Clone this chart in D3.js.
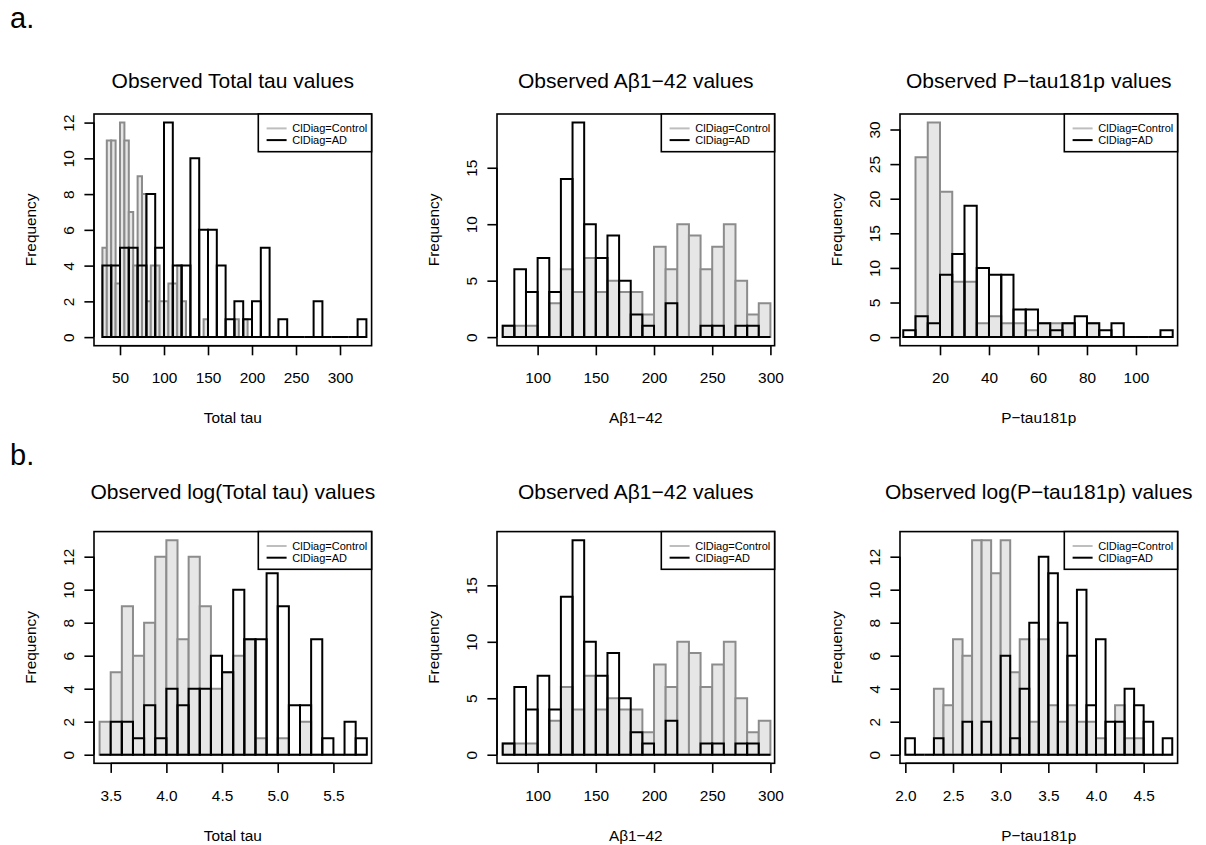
<!DOCTYPE html>
<html lang="en">
<head>
<meta charset="UTF-8">
<title>Observed CSF biomarker values by ClDiag</title>
<script src="https://d3js.org/d3.v7.min.js"></script>
<style>
  body { margin: 0; background: #fff; }
  svg { display: block; background: #fff; font-family: "Liberation Sans", Arial, Helvetica, sans-serif; }
  .ctrl path { fill: #e6e6e6; stroke: #8c8c8c; stroke-width: 2; }
  .ad path { fill: none; stroke: #000; stroke-width: 2; }
  .frame { fill: none; stroke: #000; stroke-width: 1.6; }
  .axis path, .axis line { stroke: #000; stroke-width: 1.6; }
  .axis text { fill: #000; font-size: 15.4px; font-family: "Liberation Sans", Arial, Helvetica, sans-serif; }
  .title { font-size: 21px; }
  .lab { font-size: 15.4px; }
  .legend text { font-size: 11px; }
</style>
</head>
<body>
<svg width="1206" height="845"></svg>
<script>
// --- data: histogram counts --------------------------------------------
// Total tau (raw): control bins of 5, AD bins of 10
const tauCtrlBins = { start: 30, width: 5 };
const tauCtrl = [5, 11, 11, 3, 12, 11, 7, 4, 9, 8, 2, 4, 4, 2, 2, 3, 3, 4, 2, 0, 0, 0, 0, 1, 0, 0, 0, 0, 0, 0, 1, 0, 1];
const tauAdBins = { start: 30, width: 10 };
const tauAd = [4, 4, 5, 5, 4, 8, 5, 12, 4, 4, 10, 6, 6, 4, 1, 2, 1, 2, 5, 0, 1, 0, 0, 0, 2, 0, 0, 0, 0, 1];

// Abeta 1-42: bins of 10 from 70
const abBins = { start: 70, width: 10 };
const abCtrl = [1, 1, 1, 0, 3, 6, 4, 7, 4, 5, 4, 4, 2, 8, 6, 10, 9, 6, 8, 10, 5, 2, 3];
const abAd = [1, 6, 4, 7, 4, 14, 19, 10, 7, 9, 5, 2, 1, 0, 3, 0, 0, 1, 1, 0, 1, 1, 0];

// P-tau181p: bins of 5 from 5
const ptauBins = { start: 5, width: 5 };
const ptauCtrl = [0, 26, 31, 21, 8, 8, 2, 3, 2, 2, 1, 2, 2, 2, 0, 2, 0, 0, 0, 0, 0, 0];
const ptauAd = [1, 3, 2, 9, 12, 19, 10, 9, 9, 4, 4, 2, 1, 2, 3, 2, 1, 2, 0, 0, 0, 1];

// log(Total tau): bins of 0.1 from 3.4
const logTauBins = { start: 3.4, width: 0.1 };
const logTauCtrl = [2, 5, 9, 6, 8, 12, 13, 7, 12, 9, 4, 5, 6, 7, 1, 0, 1, 0, 2, 0, 0, 0, 0, 0];
const logTauAd = [0, 2, 2, 1, 3, 1, 4, 3, 4, 4, 6, 5, 10, 7, 7, 11, 9, 3, 3, 7, 1, 0, 2, 1];

// log(P-tau181p): bins of 0.1 from 2.0
const logPtauBins = { start: 2.0, width: 0.1 };
const logPtauCtrl = [0, 0, 0, 4, 3, 7, 6, 13, 13, 11, 13, 5, 7, 2, 7, 3, 2, 3, 2, 2, 1, 0, 3, 1, 1, 0, 0, 0];
const logPtauAd = [1, 0, 0, 1, 0, 0, 2, 0, 2, 0, 6, 1, 4, 8, 12, 11, 8, 6, 10, 3, 7, 2, 2, 4, 3, 2, 0, 1];

// axis ticks
const tauTicks = [50, 100, 150, 200, 250, 300];
const abTicks = [100, 150, 200, 250, 300];
const ptauTicks = [20, 40, 60, 80, 100];
const logTauTicks = [3.5, 4.0, 4.5, 5.0, 5.5];
const logPtauTicks = [2.0, 2.5, 3.0, 3.5, 4.0, 4.5];
const legendLabels = ["ClDiag=Control", "ClDiag=AD"];

// --- layout -------------------------------------------------------------
const svg = d3.select("svg");
const boxW = 277.6, boxH = 231.7;
const colLeft = [94, 497, 900];
const rowTop = [114, 531.6];
const titleBase = [88, 499];

const panels = [
  { row: 0, col: 0, title: "Observed Total tau values", xlab: "Total tau", xlim: [20.45, 335.9],
    cb: tauCtrlBins, ctrl: tauCtrl, ab: tauAdBins, ad: tauAd, xt: tauTicks, yt: d3.range(0, 13, 2), fmt: d3.format("d") },
  { row: 0, col: 1, title: "Observed A\u03b21\u221242 values", xlab: "A\u03b21\u221242", xlim: [65.1, 303.6],
    cb: abBins, ctrl: abCtrl, ab: abBins, ad: abAd, xt: abTicks, yt: [0, 5, 10, 15], fmt: d3.format("d") },
  { row: 0, col: 2, title: "Observed P\u2212tau181p values", xlab: "P\u2212tau181p", xlim: [3.67, 117.0],
    cb: ptauBins, ctrl: ptauCtrl, ab: ptauBins, ad: ptauAd, xt: ptauTicks, yt: d3.range(0, 31, 5), fmt: d3.format("d") },
  { row: 1, col: 0, title: "Observed log(Total tau) values", xlab: "Total tau", xlim: [3.35, 5.843],
    cb: logTauBins, ctrl: logTauCtrl, ab: logTauBins, ad: logTauAd, xt: logTauTicks, yt: d3.range(0, 13, 2), fmt: d3.format(".1f") },
  { row: 1, col: 1, title: "Observed A\u03b21\u221242 values", xlab: "A\u03b21\u221242", xlim: [65.1, 303.6],
    cb: abBins, ctrl: abCtrl, ab: abBins, ad: abAd, xt: abTicks, yt: [0, 5, 10, 15], fmt: d3.format("d") },
  { row: 1, col: 2, title: "Observed log(P\u2212tau181p) values", xlab: "P\u2212tau181p", xlim: [1.944, 4.856],
    cb: logPtauBins, ctrl: logPtauCtrl, ab: logPtauBins, ad: logPtauAd, xt: logPtauTicks, yt: d3.range(0, 13, 2), fmt: d3.format(".1f") }
];

// panel letters
svg.append("text").attr("x", 10).attr("y", 28).attr("font-size", 29).text("a.");
svg.append("text").attr("x", 10).attr("y", 465).attr("font-size", 29).text("b.");

// one histogram bar per bin (a closed path so empty bins still show as a line)
function drawBars(g, x, y, bins, counts) {
  g.selectAll("path").data(counts).enter().append("path")
    .attr("d", (n, i) => {
      const x0 = x(bins.start + i * bins.width), x1 = x(bins.start + (i + 1) * bins.width);
      return `M${x0},${y(0)}V${y(n)}H${x1}V${y(0)}Z`;
    });
}

panels.forEach(p => {
  const left = colLeft[p.col], top = rowTop[p.row];
  const right = left + boxW, bottom = top + boxH;
  const ymax = d3.max(p.ctrl.concat(p.ad));

  const x = d3.scaleLinear().domain(p.xlim).range([left, right]);
  const y = d3.scaleLinear().domain([-0.04 * ymax, 1.04 * ymax]).range([bottom, top]);

  const g = svg.append("g");

  drawBars(g.append("g").attr("class", "ctrl"), x, y, p.cb, p.ctrl);
  drawBars(g.append("g").attr("class", "ad"), x, y, p.ab, p.ad);

  g.append("rect").attr("class", "frame")
    .attr("x", left).attr("y", top).attr("width", boxW).attr("height", boxH);

  // x axis (R style: line only between first and last tick)
  const xa = g.append("g").attr("class", "axis")
    .attr("transform", `translate(0,${bottom})`)
    .call(d3.axisBottom(x).tickValues(p.xt).tickFormat(p.fmt).tickSize(9.6).tickSizeOuter(0));
  xa.select(".domain").attr("d", `M${x(p.xt[0])},0H${x(p.xt[p.xt.length - 1])}`);
  xa.selectAll("text").attr("y", 37.6).attr("dy", null);

  // y axis with rotated labels
  const ya = g.append("g").attr("class", "axis")
    .attr("transform", `translate(${left},0)`)
    .call(d3.axisLeft(y).tickValues(p.yt).tickFormat(d3.format("d")).tickSize(9.6).tickSizeOuter(0));
  ya.select(".domain").attr("d", `M0,${y(p.yt[0])}V${y(p.yt[p.yt.length - 1])}`);
  ya.selectAll("text")
    .attr("x", null).attr("dy", null)
    .attr("text-anchor", "middle")
    .attr("transform", "translate(-20,0) rotate(-90)");

  // titles and axis labels
  g.append("text").attr("class", "title")
    .attr("x", (left + right) / 2).attr("y", titleBase[p.row])
    .attr("text-anchor", "middle").text(p.title);
  g.append("text").attr("class", "lab")
    .attr("x", (left + right) / 2).attr("y", bottom + 77.6)
    .attr("text-anchor", "middle").text(p.xlab);
  g.append("text").attr("class", "lab")
    .attr("transform", `translate(${left - 58},${(top + bottom) / 2}) rotate(-90)`)
    .attr("text-anchor", "middle").text("Frequency");

  // legend, top right corner
  const lg = g.append("g").attr("class", "legend")
    .attr("transform", `translate(${right - 113.3},${top})`);
  lg.append("rect").attr("width", 113.3).attr("height", 37.7)
    .attr("fill", "#fff").attr("stroke", "#000").attr("stroke-width", 1.6);
  lg.selectAll("line").data(legendLabels).enter().append("line")
    .attr("x1", 8.3).attr("x2", 28.3)
    .attr("y1", (d, i) => 14.4 + i * 11.7).attr("y2", (d, i) => 14.4 + i * 11.7)
    .attr("stroke", (d, i) => i ? "#000" : "#bebebe").attr("stroke-width", 2);
  lg.selectAll("text").data(legendLabels).enter().append("text")
    .attr("x", 34).attr("y", (d, i) => 14.4 + i * 11.7).attr("dy", "0.35em")
    .text(d => d);
});
</script>
</body>
</html>
